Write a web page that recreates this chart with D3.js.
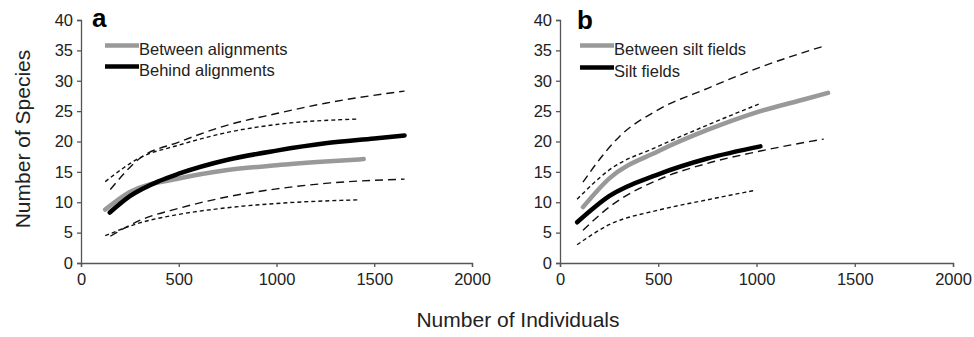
<!DOCTYPE html>
<html>
<head>
<meta charset="utf-8">
<script src="https://cdn.jsdelivr.net/npm/d3@7"></script>
<style>
  body { margin: 0; background: #fff; }
  text { font-family: "Liberation Sans", Arial, sans-serif; fill: #222; }
  .axis path, .axis line { stroke: #555; stroke-width: 1.3; }
  .axis text { font-size: 16.5px; fill: #222; }
</style>
</head>
<body>
<svg id="chart" width="974" height="337"></svg>
<script>
// tick labels
const xTicks = [0, 500, 1000, 1500, 2000];
const yTicks = [0, 5, 10, 15, 20, 25, 30, 35, 40];

// panel a - alignments
const betweenAlignX = [124, 250, 500, 750, 1000, 1250, 1446];
const betweenAlignY = [8.8, 11.7, 13.9, 15.3, 16.1, 16.7, 17.1];
const behindAlignX = [147, 250, 400, 500, 750, 1000, 1250, 1500, 1655];
const behindAlignY = [8.3, 11.0, 13.5, 14.7, 17.0, 18.5, 19.7, 20.5, 21.0];
// CI behind alignments (long dash)
const behindUpX = [150, 300, 500, 750, 1000, 1250, 1655];
const behindUpY = [12.1, 17.2, 19.9, 22.7, 24.6, 26.3, 28.3];
const behindLoX = [150, 300, 500, 750, 1000, 1250, 1655];
const behindLoY = [4.4, 7.0, 9.0, 10.9, 12.2, 13.1, 13.8];
// CI between alignments (short dash)
const betweenUpX = [124, 300, 500, 750, 1000, 1420];
const betweenUpY = [13.4, 17.3, 19.4, 21.5, 22.8, 23.7];
const betweenLoX = [124, 300, 500, 750, 1000, 1420];
const betweenLoY = [4.5, 6.6, 8.0, 9.1, 9.8, 10.4];

// panel b - silt fields
const betweenSiltX = [117, 250, 500, 750, 1000, 1250, 1364];
const betweenSiltY = [9.2, 13.9, 18.4, 21.9, 24.8, 27.0, 28.0];
const siltX = [87, 250, 500, 750, 1020];
const siltY = [6.7, 11.0, 14.6, 17.2, 19.2];
// CI between silt fields (long dash)
const betweenSiltUpX = [117, 200, 302, 487, 755, 1000, 1342];
const betweenSiltUpY = [13.3, 17.0, 20.8, 25.0, 28.8, 32.0, 35.7];
const betweenSiltLoX = [117, 250, 500, 750, 1000, 1342];
const betweenSiltLoY = [5.4, 9.2, 13.7, 16.4, 18.3, 20.4];
// CI silt fields (short dash)
const siltUpX = [87, 250, 500, 750, 1015];
const siltUpY = [10.5, 15.3, 19.2, 22.7, 26.2];
const siltLoX = [87, 250, 500, 750, 998];
const siltLoY = [3.0, 6.3, 8.7, 10.4, 12.0];

const zip = (xs, ys) => xs.map((x, i) => [x, ys[i]]);

const svg = d3.select("#chart");

const y = d3.scaleLinear().domain([0, 40]).range([263, 20]);

const panels = [
  {
    letter: "a", x0: 81, x1: 472, letterX: 92, letterY: 27,
    legendX: 105, legendY: [45.5, 66.5],
    legend: ["Between alignments", "Behind alignments"],
    means: [zip(betweenAlignX, betweenAlignY), zip(behindAlignX, behindAlignY)],
    longDash: [zip(behindUpX, behindUpY), zip(behindLoX, behindLoY)],
    shortDash: [zip(betweenUpX, betweenUpY), zip(betweenLoX, betweenLoY)]
  },
  {
    letter: "b", x0: 560, x1: 953, letterX: 577, letterY: 29,
    legendX: 580, legendY: [45.5, 67.5],
    legend: ["Between silt fields", "Silt fields"],
    means: [zip(betweenSiltX, betweenSiltY), zip(siltX, siltY)],
    longDash: [zip(betweenSiltUpX, betweenSiltUpY), zip(betweenSiltLoX, betweenSiltLoY)],
    shortDash: [zip(siltUpX, siltUpY), zip(siltLoX, siltLoY)]
  }
];

const meanColors = ["#999999", "#000000"];

panels.forEach(p => {
  const x = d3.scaleLinear().domain([0, 2000]).range([p.x0, p.x1]);
  const line = d3.line()
    .x(d => x(d[0]))
    .y(d => y(d[1]))
    .curve(d3.curveMonotoneX);

  svg.append("g")
    .attr("class", "axis")
    .attr("transform", `translate(0,${y(0)})`)
    .call(d3.axisBottom(x).tickValues(xTicks).tickFormat(d3.format("d"))
      .tickSize(4).tickSizeOuter(4).tickPadding(6));

  svg.append("g")
    .attr("class", "axis")
    .attr("transform", `translate(${p.x0},0)`)
    .call(d3.axisLeft(y).tickValues(yTicks).tickSize(4).tickSizeOuter(4).tickPadding(4));

  // confidence bounds
  p.longDash.forEach(d => {
    svg.append("path").datum(d)
      .attr("d", line)
      .attr("fill", "none")
      .attr("stroke", "#111")
      .attr("stroke-width", 1.4)
      .attr("stroke-dasharray", "8,5");
  });
  p.shortDash.forEach(d => {
    svg.append("path").datum(d)
      .attr("d", line)
      .attr("fill", "none")
      .attr("stroke", "#111")
      .attr("stroke-width", 1.4)
      .attr("stroke-dasharray", "4,3");
  });

  // rarefaction curves
  p.means.forEach((d, i) => {
    svg.append("path").datum(d)
      .attr("d", line)
      .attr("fill", "none")
      .attr("stroke", meanColors[i])
      .attr("stroke-width", 4.5)
      .attr("stroke-linecap", "round");
  });

  // legend
  p.legend.forEach((name, i) => {
    svg.append("line")
      .attr("x1", p.legendX).attr("x2", p.legendX + 34)
      .attr("y1", p.legendY[i]).attr("y2", p.legendY[i])
      .attr("stroke", meanColors[i])
      .attr("stroke-width", 4.5);
    svg.append("text")
      .attr("x", p.legendX + 34)
      .attr("y", p.legendY[i] + 9)
      .attr("font-size", "16.5px")
      .text(name);
  });

  svg.append("text")
    .attr("x", p.letterX)
    .attr("y", p.letterY)
    .attr("font-size", "26px")
    .attr("font-weight", "bold")
    .style("fill", "#000")
    .text(p.letter);
});

svg.append("text")
  .attr("x", 518)
  .attr("y", 327)
  .attr("text-anchor", "middle")
  .attr("font-size", "21px")
  .text("Number of Individuals");

svg.append("text")
  .attr("transform", "translate(30,139) rotate(-90)")
  .attr("text-anchor", "middle")
  .attr("font-size", "21px")
  .text("Number of Species");
</script>
</body>
</html>
